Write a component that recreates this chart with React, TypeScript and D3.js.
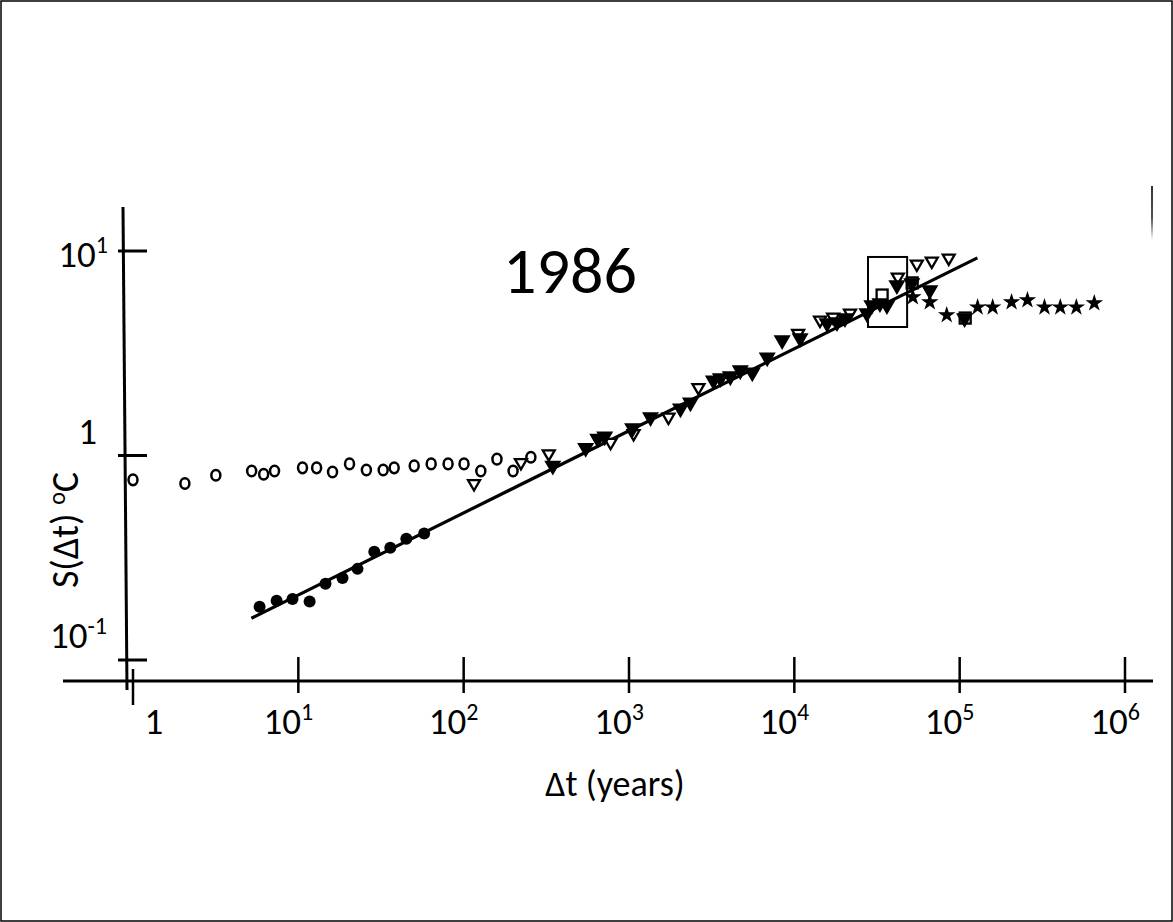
import React from "react";
import * as d3 from "d3";

// ---------- data ----------
// [Δt years, S(Δt) °C]
const openCircles: [number, number][] = [
  [1.0, 0.76], [2.06, 0.73], [3.17, 0.8], [5.22, 0.84], [6.17, 0.81], [7.18, 0.84],
  [10.6, 0.87], [12.9, 0.87], [16.1, 0.83], [20.4, 0.91], [25.8, 0.85], [32.6, 0.85],
  [38.0, 0.87], [50.2, 0.89], [63.6, 0.91], [80.5, 0.91], [100.5, 0.91], [127, 0.84],
  [159, 0.96], [199, 0.84], [255, 0.98],
];
const filledCircles: [number, number][] = [
  [5.83, 0.182], [7.39, 0.195], [9.22, 0.199], [11.7, 0.193], [14.6, 0.236], [18.5, 0.252],
  [22.8, 0.279], [28.8, 0.338], [36.0, 0.354], [45.0, 0.392], [57.7, 0.415],
];
const filledTriangles: [number, number][] = [
  [346, 0.893], [547, 1.09], [647, 1.21], [713, 1.24], [1052, 1.36], [1350, 1.54],
  [2048, 1.7], [2353, 1.82], [3239, 2.33], [3571, 2.39], [4102, 2.44], [4710, 2.61],
  [5568, 2.55], [6855, 3.02], [8440, 3.66], [10830, 3.75], [15770, 4.44], [18110, 4.49],
  [20240, 4.69], [27470, 4.97], [29440, 5.43], [32940, 5.56], [36310, 5.43], [41720, 6.81],
  [51350, 6.97], [65960, 6.44], [107100, 4.69],
];
const openTriangles: [number, number][] = [
  [115.5, 0.729], [222, 0.924], [327, 1.02], [774, 1.16], [1066, 1.28], [1733, 1.54],
  [2630, 2.15], [10540, 3.96], [14310, 4.59], [17160, 4.75], [21710, 4.97], [42280, 7.46],
  [55050, 8.63], [67800, 8.93], [85870, 9.24],
];
const openSquares: [number, number][] = [
  [33960, 6.09], [51600, 6.98], [108000, 4.7],
];
const stars: [number, number][] = [
  [52100, 5.95], [65960, 5.62], [83500, 4.86], [128400, 5.31], [158300, 5.31],
  [206000, 5.62], [257000, 5.75], [325800, 5.31], [406000, 5.31], [508000, 5.31], [652000, 5.56],
];
// fitted power-law line end points
const fitLine: [number, number][] = [[5.2, 0.16], [128000, 9.25]];
// highlighted box [t0, t1], [S0, S1]
const boxT: [number, number] = [27900, 48100];
const boxS: [number, number] = [4.25, 9.35];

const xTicks = [1, 10, 100, 1000, 10000, 100000, 1000000];
const xTickLabels: [string, string][] = [["1", ""], ["10", "1"], ["10", "2"], ["10", "3"], ["10", "4"], ["10", "5"], ["10", "6"]];
const yTicks = [10, 1, 0.1];
const yTickLabels: [string, string][] = [["10", "1"], ["1", ""], ["10", "-1"]];
const title = "1986";
const xTitle = "\u2206t (years)";

// ---------- layout ----------
const W = 1173;
const H = 922;
const FONT = "Calibri, Carlito, Lato, 'Open Sans', sans-serif";

export default function App() {
  const x = d3.scaleLog().domain([1, 1e6]).range([133, 1125]);
  const y = d3.scaleLog().domain([0.1, 10]).range([660, 251]);

  const line = d3.line<[number, number]>().x((d) => x(d[0])).y((d) => y(d[1]));
  const triDown = d3.symbol().type(d3.symbolTriangle).size(80)()!;
  const triOpen = d3.symbol().type(d3.symbolTriangle).size(62)()!;
  const star = d3.symbol().type(d3.symbolStar).size(95)()!;

  const yLabelPos = [
    { ex: 108, dy: 16 },
    { ex: 97, dy: -12 },
    { ex: 107, dy: -12 },
  ];

  return (
    <svg
      width={W}
      height={H}
      style={{ position: "absolute", left: 0, top: 0, background: "#fff" }}
      fontFamily={FONT}
    >
      <rect x={0} y={0} width={W} height={H} fill="#fff" />
      <rect x={1} y={1} width={W - 2} height={H - 2} fill="none" stroke="#000" strokeWidth={1.5} />
      {/* stray vertical mark at right */}
      <defs>
        <linearGradient id="fade" x1="0" y1="0" x2="0" y2="1">
          <stop offset="0" stopColor="#333" />
          <stop offset="0.6" stopColor="#555" />
          <stop offset="1" stopColor="#fff" />
        </linearGradient>
      </defs>
      <rect x={1151} y={186} width={2} height={54} fill="url(#fade)" />

      {/* axes */}
      <line x1={63} y1={681} x2={1153} y2={681} stroke="#000" strokeWidth={3} />
      <line x1={123} y1={207} x2={127} y2={690} stroke="#000" strokeWidth={3} />
      {xTicks.map((t, i) => (
        <line
          key={"xt" + i}
          x1={x(t)}
          x2={x(t)}
          y1={i === 0 ? 669 : 657}
          y2={i === 0 ? 705 : 693}
          stroke="#000"
          strokeWidth={2.5}
        />
      ))}
      {yTicks.map((s, i) => (
        <line key={"yt" + i} x1={118} x2={147} y1={y(s)} y2={y(s)} stroke="#000" strokeWidth={3} />
      ))}

      {/* tick labels */}
      {xTicks.map((t, i) => (
        <text key={"xl" + i} x={x(t) + (i === 0 ? 21 : -10)} y={734} fontSize={37} textAnchor="middle" fill="#000">
          {xTickLabels[i][0]}
          {xTickLabels[i][1] && (
            <tspan fontSize={24} dy={-14}>
              {xTickLabels[i][1]}
            </tspan>
          )}
        </text>
      ))}
      {yTicks.map((s, i) => (
        <text key={"yl" + i} x={yLabelPos[i].ex} y={y(s) + yLabelPos[i].dy} fontSize={37} textAnchor="end" fill="#000">
          {yTickLabels[i][0]}
          {yTickLabels[i][1] && (
            <tspan fontSize={24} dy={-14}>
              {yTickLabels[i][1]}
            </tspan>
          )}
        </text>
      ))}

      {/* titles */}
      <text x={615} y={796} fontSize={36} textAnchor="middle" fill="#000">
        {xTitle}
      </text>
      <text transform="translate(78,530) rotate(-90)" fontSize={38} textAnchor="middle" fill="#000">
        S(∆t) <tspan fontSize={24} dy={-13}>o</tspan>
        <tspan dy={13}>C</tspan>
      </text>
      <text x={570} y={293} fontSize={66} textAnchor="middle" fill="#000">
        {title}
      </text>

      {/* fit line */}
      <path d={line(fitLine)!} fill="none" stroke="#000" strokeWidth={3.2} />

      {/* highlight box */}
      <rect
        x={x(boxT[0])}
        y={y(boxS[1])}
        width={x(boxT[1]) - x(boxT[0])}
        height={y(boxS[0]) - y(boxS[1])}
        fill="none"
        stroke="#000"
        strokeWidth={2}
      />

      {/* markers */}
      {openCircles.map((d, i) => (
        <ellipse key={"oc" + i} cx={x(d[0])} cy={y(d[1])} rx={4.5} ry={5.3} fill="none" stroke="#000" strokeWidth={2.5} />
      ))}
      {filledCircles.map((d, i) => (
        <circle key={"fc" + i} cx={x(d[0])} cy={y(d[1])} r={6} fill="#000" />
      ))}
      {openTriangles.map((d, i) => (
        <path
          key={"ot" + i}
          d={triOpen}
          transform={`translate(${x(d[0])},${y(d[1])}) rotate(180)`}
          fill="#fff"
          stroke="#000"
          strokeWidth={2.3}
        />
      ))}
      {filledTriangles.map((d, i) => (
        <path key={"ft" + i} d={triDown} transform={`translate(${x(d[0])},${y(d[1])}) rotate(180)`} fill="#000" stroke="#000" strokeWidth={2} />
      ))}
      {openSquares.map((d, i) => (
        <rect key={"os" + i} x={x(d[0]) - 5.5} y={y(d[1]) - 5.5} width={11} height={11} fill="none" stroke="#000" strokeWidth={2.3} />
      ))}
      {stars.map((d, i) => (
        <path key={"st" + i} d={star} transform={`translate(${x(d[0])},${y(d[1])})`} fill="#000" />
      ))}
    </svg>
  );
}
